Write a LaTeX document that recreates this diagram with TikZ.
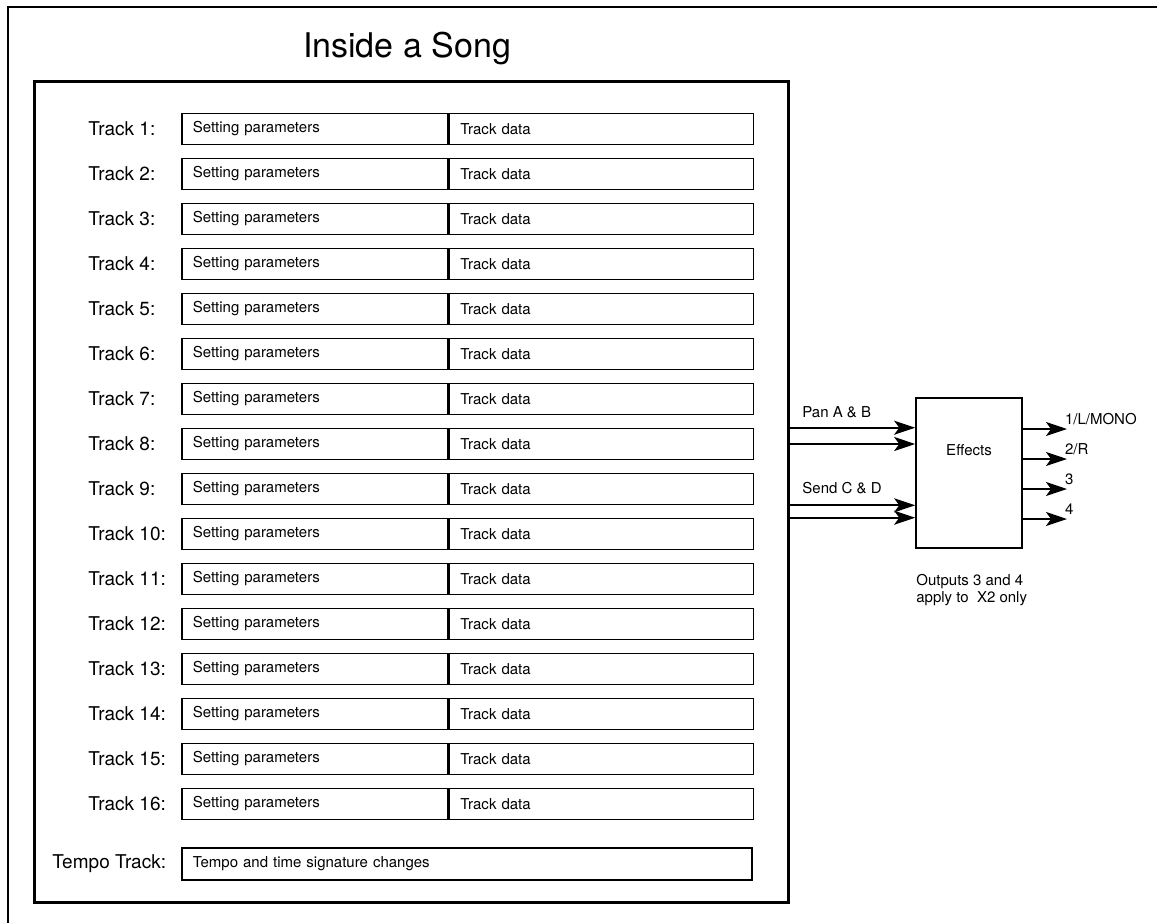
\documentclass[tikz,border=0pt]{standalone}
\usepackage{fontspec}
\setmainfont{TeX Gyre Heros}
\usetikzlibrary{arrows.meta}

\tikzset{
  tracklabel/.style={anchor=west, inner sep=0pt, font=\fontsize{9.5}{11}\selectfont},
  cell/.style={draw, line width=0.8pt, anchor=west, minimum height=15.5pt,
    inner xsep=5.5pt, inner ysep=0pt, align=left, font=\fontsize{7.5}{9}\selectfont},
  setbox/.style={cell, text width=122pt},
  databox/.style={cell, text width=141pt},
  tempobox/.style={cell, text width=274pt},
  smalltext/.style={inner sep=0pt, font=\fontsize{7.5}{8.5}\selectfont},
  sig/.style={line width=1pt, -{Stealth[length=10.5pt, width=7pt, inset=2.5pt]}},
}

\begin{document}
\begin{tikzpicture}[x=0.5pt, y=-0.5pt]
  \useasboundingbox (0,0) rectangle (1157,922);

  % outer frame
  \draw[line width=1pt] (8,7) rectangle (1170,935);

  \node[anchor=base, inner sep=0pt, font=\fontsize{17}{20}\selectfont] (title) at (407,57) {Inside a Song};
  \node[draw, line width=1.5pt, minimum width=377pt, minimum height=410.5pt, inner sep=0pt] (song) at (411,491.5) {};

  % tracks
  \foreach \i in {1,...,16}{
    \pgfmathsetmacro\ty{129+45*(\i-1)}
    \node[tracklabel] (lab\i) at (88,\ty) {Track \i:};
    \node[setbox] (set\i) at (181,\ty) {Setting parameters};
    \node[databox] (dat\i) at (set\i.east) {Track data};
  }
  \node[tracklabel] (labtempo) at (52,864) {Tempo Track:};
  \node[tempobox, minimum height=16pt] (tempo) at (181,864) {Tempo and time signature changes};

  % effects
  \node[draw, line width=0.8pt, minimum width=53pt, minimum height=75pt, inner sep=0pt] (fx) at (969,473) {};
  \node[smalltext] (fxlabel) at (969,450) {Effects};

  \node[smalltext, anchor=west] (pan) at (802,412) {Pan A \& B};
  \node[smalltext, anchor=west] (send) at (802,488) {Send C \& D};
  \draw[sig] (song.east |- set8.north) -- (fx.west |- set8.north);
  \draw[sig] (song.east |- set8) -- (fx.west |- set8);
  \draw[sig] (song.east |- set9.south) -- (fx.west |- set9.south);
  \draw[sig] (song.east |- set10.north) -- (fx.west |- set10.north);

  % outputs
  \coordinate (out1) at (1067,429);
  \coordinate (out2) at (1067,459);
  \coordinate (out3) at (1067,489);
  \coordinate (out4) at (1067,519);
  \draw[sig] (fx.east |- out1) -- (out1) node[smalltext, anchor=west, xshift=-1.5pt, yshift=5pt] {1/L/MONO};
  \draw[sig] (fx.east |- out2) -- (out2) node[smalltext, anchor=west, xshift=-1.5pt, yshift=5pt] {2/R};
  \draw[sig] (fx.east |- out3) -- (out3) node[smalltext, anchor=west, xshift=-1.5pt, yshift=5pt] {3};
  \draw[sig] (fx.east |- out4) -- (out4) node[smalltext, anchor=west, xshift=-1.5pt, yshift=5pt] {4};

  \node[smalltext, anchor=north west, align=left] (note) at (916,574) {Outputs 3 and 4\\apply to~ X2 only};
\end{tikzpicture}
\end{document}
